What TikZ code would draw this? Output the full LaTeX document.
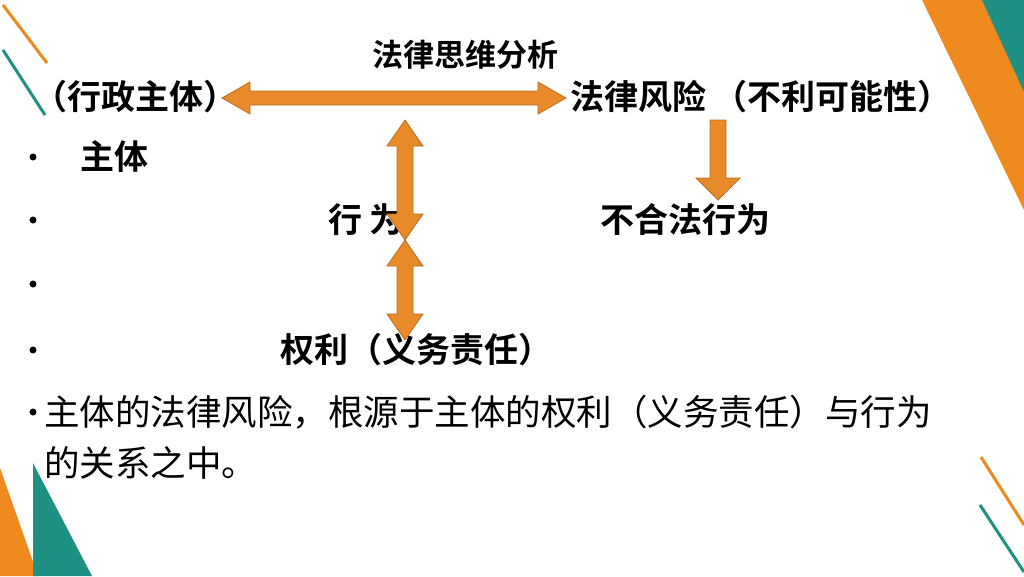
\documentclass[tikz,border=0pt]{standalone}
\usepackage{fontspec}
\newfontfamily\cjk{Noto Sans CJK SC}
\newfontfamily\cjkb{Noto Sans CJK SC Bold}
\usetikzlibrary{shapes.arrows}
\definecolor{deco orange}{HTML}{EE8A1E}
\definecolor{deco teal}{HTML}{1E9184}
\definecolor{arrow orange}{HTML}{E8892A}
\tikzset{
  bold text/.style={font=\cjkb\fontsize{34}{38}\selectfont, inner sep=0pt, anchor=west},
  plain text/.style={font=\cjk\fontsize{35.5}{40}\selectfont, inner sep=0pt, anchor=west},
  bullet/.style={circle, fill=black, inner sep=0pt, minimum size=7pt},
  fat arrow/.style={draw=arrow orange!80!black, fill=arrow orange, line width=0.8pt, line join=miter}
}
\begin{document}
\begin{tikzpicture}[x=1pt, y=-1pt]
  \useasboundingbox (0,0) rectangle (1024,576);
  \fill[white] (0,0) rectangle (1024,576);
  % corner decorations
  \fill[deco orange] (922,0) -- (1024,0) -- (1024,210) -- cycle;
  \fill[deco teal] (982,0) -- (1024,0) -- (1024,92) -- cycle;
  \draw[deco orange, line width=3pt] (3,5) -- (47,63);
  \draw[deco teal, line width=3pt] (3,50) -- (45,115);
  \fill[deco orange] (0,468) -- (38,576) -- (0,576) -- cycle;
  \fill[deco teal] (33,463) -- (92,576) -- (33,576) -- cycle;
  \draw[deco orange, line width=3pt] (981,457) -- (1024,525);
  \draw[deco teal, line width=3pt] (980,505) -- (1024,572);
  % texts
  \node[bold text, font=\cjkb\fontsize{31}{34}\selectfont, anchor=center] (analysis) at (465,55) {法律思维分析};
  \node[bold text] (subject) at (33,97) {（行政主体）};
  \node[bold text] (risk) at (570,97) {法律风险 （不利可能性）};
  \node[bold text] (subj2) at (80,157) {主体};
  \node[bold text] (act) at (328,220) {行 为};
  \node[bold text] (illegal) at (600,220) {不合法行为};
  \node[bold text] (rights) at (280,350) {权利（义务责任）};
  \node[plain text] (line1) at (44,412) {主体的法律风险，根源于主体的权利（义务责任）与行为};
  \node[plain text] (line2) at (44,463) {的关系之中。};
  \foreach \y/\n in {157/1,220/2,284/3,350/4,412/5}
    \node[bullet] (b\n) at (33,\y) {};
  % arrows
  \draw[fat arrow] (222,98) -- (250,82) -- (250,91) -- (538,91) -- (538,82) -- (566,98)
    -- (538,114) -- (538,105) -- (250,105) -- (250,114) -- cycle;
  \draw[fat arrow] (405,120) -- (423,146) -- (413,146) -- (413,214) -- (423,214) -- (405,240)
    -- (387,214) -- (397,214) -- (397,146) -- (387,146) -- cycle;
  \draw[fat arrow] (405,240) -- (423,266) -- (413,266) -- (413,314) -- (423,314) -- (405,340)
    -- (387,314) -- (397,314) -- (397,266) -- (387,266) -- cycle;
  \draw[fat arrow] (710,120) -- (726,120) -- (726,178) -- (740,178) -- (718,200)
    -- (696,178) -- (710,178) -- cycle;
\end{tikzpicture}
\end{document}
